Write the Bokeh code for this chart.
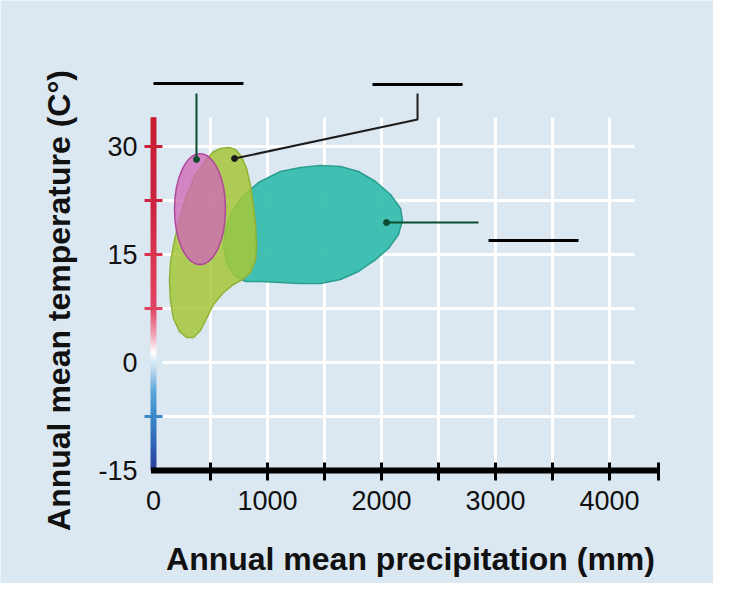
import numpy as np
from bokeh.plotting import figure
from bokeh.models import Range1d
from bokeh.core.properties import value
from bokeh.embed import file_html
from bokeh.resources import INLINE

# ---------------- data ----------------
x_ticks = [500, 1000, 1500, 2000, 2500, 3000, 3500, 4000]
x_label_values = [0, 1000, 2000, 3000, 4000]
x_label_text = ["0", "1000", "2000", "3000", "4000"]
x_axis_end = 4430
y_ticks = [-7.5, 0, 7.5, 15, 22.5, 30]
y_label_values = [-15, 0, 15, 30]
y_label_text = ["-15", "0", "15", "30"]
y_axis_min = -15
y_axis_top = 34
grid_x_end = 4220
grid_y_end = 34

# biome envelopes (precipitation mm, temperature C)
green_x = [456, 518, 588, 658, 719, 772, 816, 851, 877, 895, 904, 895, 851, 781, 702,
           614, 526, 465, 412, 351, 289, 228, 175, 149, 140, 149, 175, 219, 281, 360]
green_y = [28.06, 29.17, 29.72, 29.86, 29.58, 28.61, 26.94, 24.58, 21.81, 19.03, 16.25,
           14.17, 12.5, 11.53, 10.83, 9.72, 8.06, 6.11, 4.44, 3.47, 3.47, 4.31, 6.11,
           8.61, 11.39, 13.89, 16.25, 19.44, 22.78, 25.83]
teal_x = [1114, 1289, 1465, 1640, 1798, 1947, 2079, 2167, 2184, 2149, 2061, 1939, 1798,
          1640, 1465, 1289, 1114, 939, 807, 711, 640, 614, 632, 684, 781, 921]
teal_y = [26.53, 27.08, 27.36, 27.22, 26.53, 25.14, 23.33, 21.39, 19.72, 17.78, 15.83,
          14.17, 12.64, 11.53, 10.97, 10.97, 11.11, 11.25, 11.25, 12.08, 13.89, 16.25,
          18.61, 20.83, 23.06, 25.0]
pink_cx, pink_cy, pink_w, pink_h = 408, 21.3, 447, 15.4

# blank label bars and leader lines
bar_x0 = [0, 1921, 2939]
bar_x1 = [789, 2711, 3728]
bar_y = [38.75, 38.6, 16.94]
leader1_x = [377, 377]
leader1_y = [37.36, 28.2]
leader2_x = [2316, 2316, 711]
leader2_y = [37.36, 33.75, 28.33]
leader3_x = [2851, 2044]
leader3_y = [19.44, 19.44]

# ---------------- styling helpers ----------------
PX_MM = 0.114   # px per mm
PX_C = 7.2      # px per degree
X0_PX, Y0_PX = 153, 362
BG = "#dbe8f2"
FONT = value("Liberation Sans")
W, H = 713, 583


def hex2rgb(h):
    h = h.lstrip("#")
    return np.array([int(h[i:i + 2], 16) for i in (0, 2, 4)], dtype=float)


stops = [(-15, "#2b3a97"), (-11, "#3066b5"), (-7.5, "#3a88c8"), (-4, "#5aa5da"),
         (-1.0, "#b8d8ee"), (1.5, "#ffffff"), (4, "#f0a0b4"), (7.5, "#e24564"),
         (15, "#d9354f"), (22.5, "#cc2340"), (34, "#c81e32")]
sv = np.array([s[0] for s in stops], dtype=float)
sc = np.array([hex2rgb(s[1]) for s in stops])


def grad_color(t):
    rgb = [np.interp(t, sv, sc[:, k]) for k in range(3)]
    return "#%02x%02x%02x" % tuple(int(round(c)) for c in rgb)


p = figure(width=W, height=H, output_backend="svg", toolbar_location=None,
           x_range=Range1d((0 - X0_PX) / PX_MM, (W - X0_PX) / PX_MM),
           y_range=Range1d((Y0_PX - H) / PX_C, (Y0_PX - 0) / PX_C),
           x_axis_location=None, y_axis_location=None, min_border=0)
p.grid.visible = False
p.outline_line_color = None
p.background_fill_color = BG
p.border_fill_color = BG

# grid lines
p.segment(x0=[0] * len(y_ticks), x1=[grid_x_end] * len(y_ticks), y0=y_ticks, y1=y_ticks,
          line_color="white", line_width=3)
p.segment(x0=x_ticks, x1=x_ticks, y0=[y_axis_min] * len(x_ticks),
          y1=[grid_y_end] * len(x_ticks), line_color="white", line_width=3)

# envelopes
p.patch(teal_x, teal_y, fill_color="#32bcad", fill_alpha=0.92,
        line_color="#2a9d8f", line_width=1.5)
p.patch(green_x, green_y, fill_color="#a6c73a", fill_alpha=0.85,
        line_color="#8fb232", line_width=1.5)
p.ellipse(x=[pink_cx], y=[pink_cy], width=[pink_w], height=[pink_h],
          fill_color="#cf68b6", fill_alpha=0.78, line_color="#b0489c", line_width=1.5)

# gradient y axis (stacked thin bands, outlined in their own colour to hide seams)
n = 140
edges = np.linspace(y_axis_min, y_axis_top, n + 1)
mids = (edges[:-1] + edges[1:]) / 2
band_colors = [grad_color(m) for m in mids]
half = 2.5 / PX_MM
p.quad(left=[-half] * n, right=[half] * n, bottom=edges[:-1], top=edges[1:],
       fill_color=band_colors, line_color=band_colors, line_width=1)
tk = 9 / PX_MM
p.segment(x0=[-tk] * len(y_ticks), x1=[tk] * len(y_ticks), y0=y_ticks, y1=y_ticks,
          line_color=[grad_color(t) for t in y_ticks], line_width=3)

# x axis
p.segment(x0=[-half], x1=[x_axis_end], y0=[y_axis_min], y1=[y_axis_min],
          line_color="black", line_width=6)
xt = x_ticks + [x_axis_end]
p.segment(x0=xt, x1=xt, y0=[y_axis_min + 8 / PX_C] * len(xt),
          y1=[y_axis_min - 10 / PX_C] * len(xt), line_color="black", line_width=3)

# tick labels
p.text(x=x_label_values, y=[(Y0_PX - 500) / PX_C] * len(x_label_values), text=x_label_text,
       text_font=FONT, text_font_size="27px", text_align="center",
       text_baseline="middle", text_color="#111111")
p.text(x=[(137 - X0_PX) / PX_MM] * len(y_label_values), y=y_label_values, text=y_label_text,
       text_font=FONT, text_font_size="27px", text_align="right",
       text_baseline="middle", text_color="#111111")

# axis titles
p.text(x=[(410 - X0_PX) / PX_MM], y=[(Y0_PX - 558) / PX_C],
       text=["Annual mean precipitation (mm)"], text_font=FONT, text_font_size="32px",
       text_font_style="bold", text_align="center", text_baseline="middle",
       text_color="#111111")
p.text(x=[(58 - X0_PX) / PX_MM], y=[(Y0_PX - 300) / PX_C],
       text=["Annual mean temperature (C°)"], text_font=FONT, text_font_size="32px",
       text_font_style="bold", text_align="center", text_baseline="middle",
       angle=np.pi / 2, text_color="#111111")

# blank label bars and leaders
p.segment(x0=bar_x0, x1=bar_x1, y0=bar_y, y1=bar_y, line_color="black", line_width=3)
p.line(leader1_x, leader1_y, line_color="#0b4d2c", line_width=2)
p.line(leader2_x, leader2_y, line_color="#1c1c1c", line_width=2)
p.line(leader3_x, leader3_y, line_color="#0b4d2c", line_width=2)
p.scatter(x=[leader1_x[-1], leader2_x[-1], leader3_x[-1]],
          y=[leader1_y[-1], leader2_y[-1], leader3_y[-1]],
          size=6, color=["#0b4d2c", "#1c1c1c", "#0b4d2c"])

open("out.html", "w").write(file_html(p, INLINE))
